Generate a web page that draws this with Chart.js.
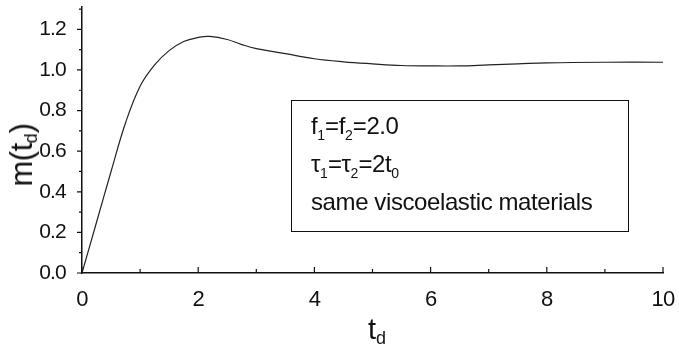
<!DOCTYPE html>
<html lang="en">
  <head>
    <meta charset="UTF-8" />
    <title>m(td)</title>
    <style>
      body { margin: 0; background: #fff; }
      #wrap { position: relative; width: 679px; height: 363px; font-family: "Liberation Sans", Arial, sans-serif; color: #111; }
      #note {
        position: absolute; left: 291px; top: 100px; width: 338px; height: 132px;
        border: 1.5px solid #111; box-sizing: border-box; padding: 6px 0 0 19px;
        font-size: 24px; line-height: 38px; letter-spacing: -0.4px;
      }
      sub { font-size: 14px; vertical-align: -6px; line-height: 0; letter-spacing: 0; }
      .title sub { font-size: 18px; vertical-align: -5px; }
      #ytitle {
        position: absolute; left: 22px; top: 155px; font-size: 31px; letter-spacing: -0.5px;
        transform: translate(-50%, -50%) rotate(-90deg); white-space: nowrap;
      }
      #xtitle { position: absolute; left: 377px; top: 313px; font-size: 29px; transform: translateX(-50%); }
    </style>
  </head>
  <body>
    <div id="wrap">
      <canvas id="chart" width="679" height="363"></canvas>
      <div id="ytitle" class="title">m(t<sub>d</sub>)</div>
      <div id="xtitle" class="title">t<sub>d</sub></div>
      <div id="note">
        f<sub>1</sub>=f<sub>2</sub>=2.0<br />
        &tau;<sub>1</sub>=&tau;<sub>2</sub>=2t<sub>0</sub><br />
        same viscoelastic materials
      </div>
    </div>
    <script src="https://cdn.jsdelivr.net/npm/chart.js"></script>
    <script>
      const td = [0, 0.25, 0.5, 0.75, 1.0, 1.25, 1.5, 1.75, 2.0, 2.2, 2.5, 2.75, 3.0, 3.5, 4.0, 4.5, 5.0, 5.5, 6.0, 6.5, 7.0, 7.5, 8.0, 9.0, 10.0];
      const m = [0, 0.25, 0.5, 0.74, 0.92, 1.025, 1.095, 1.14, 1.16, 1.165, 1.15, 1.125, 1.105, 1.08, 1.055, 1.04, 1.03, 1.022, 1.02, 1.02, 1.025, 1.03, 1.035, 1.038, 1.038];
      const xMajor = [0, 2, 4, 6, 8, 10];
      const xMinor = [1, 3, 5, 7, 9];
      const yMajor = [0, 0.2, 0.4, 0.6, 0.8, 1.0, 1.2];
      const yMinor = [0.1, 0.3, 0.5, 0.7, 0.9, 1.1, 1.3];

      // tick marks: x inside (up), y outside (left)
      const tickMarks = {
        id: 'tickMarks',
        beforeDraw(chart) { chart.ctx.letterSpacing = '-0.8px'; },
        afterDraw(chart) {
          const ctx = chart.ctx, xs = chart.scales.x, ys = chart.scales.y;
          const a = chart.chartArea;
          ctx.save();
          ctx.strokeStyle = '#111';
          ctx.lineWidth = 1.2;
          ctx.beginPath();
          for (const v of xMajor) { const p = xs.getPixelForValue(v); ctx.moveTo(p, a.bottom); ctx.lineTo(p, a.bottom - 6); }
          for (const v of xMinor) { const p = xs.getPixelForValue(v); ctx.moveTo(p, a.bottom); ctx.lineTo(p, a.bottom - 4); }
          for (const v of yMajor) { const p = ys.getPixelForValue(v); ctx.moveTo(a.left, p); ctx.lineTo(a.left - 5, p); }
          for (const v of yMinor) { const p = ys.getPixelForValue(v); ctx.moveTo(a.left, p); ctx.lineTo(a.left - 3, p); }
          ctx.stroke();
          ctx.restore();
        }
      };

      new Chart(document.getElementById('chart'), {
        type: 'line',
        data: {
          datasets: [{
            data: td.map((t, i) => ({ x: t, y: m[i] })),
            borderColor: '#222',
            borderWidth: 1.2,
            pointRadius: 0,
            tension: 0.4,
            fill: false
          }]
        },
        options: {
          responsive: false,
          animation: false,
          layout: { padding: { left: 0, right: 16, top: 7, bottom: 0 } },
          plugins: { legend: { display: false }, tooltip: { enabled: false } },
          scales: {
            x: {
              type: 'linear', min: 0, max: 10,
              afterFit(s) { s.height = 90; s.paddingLeft = 0; s.paddingRight = 0; },
              grid: { display: false },
              border: { display: true, color: '#111', width: 1.5 },
              ticks: { stepSize: 2, color: '#111', padding: 6, font: { family: 'Liberation Sans', size: 22 } }
            },
            y: {
              min: 0, max: 1.31,
              afterFit(s) { s.width = 82; s.paddingTop = 0; s.paddingBottom = 0; },
              afterBuildTicks(s) { s.ticks = yMajor.map(v => ({ value: v })); },
              grid: { display: false },
              border: { display: true, color: '#111', width: 1.5 },
              ticks: { color: '#111', padding: 8, font: { family: 'Liberation Sans', size: 21 }, callback: v => v.toFixed(1) }
            }
          }
        },
        plugins: [tickMarks]
      });
    </script>
  </body>
</html>
